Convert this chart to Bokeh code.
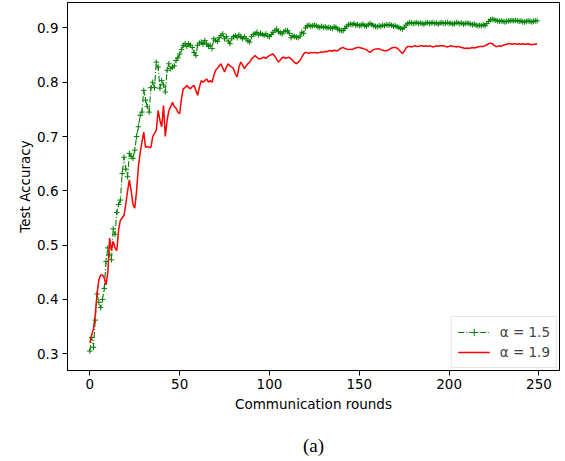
from bokeh.plotting import figure
from bokeh.models import Range1d, FixedTicker, Legend, LegendItem, LinearAxis
from bokeh.embed import file_html
from bokeh.resources import INLINE

rounds = list(range(250))

acc_alpha_15 = [
    0.305, 0.330, 0.312, 0.362, 0.410, 0.395, 0.385, 0.400, 0.420, 0.470,
    0.495, 0.482, 0.473, 0.530, 0.520, 0.560, 0.575, 0.583, 0.632, 0.662,
    0.640, 0.626, 0.669, 0.663, 0.660, 0.675, 0.700, 0.718, 0.739, 0.745,
    0.785, 0.767, 0.755, 0.745, 0.790, 0.800, 0.790, 0.837, 0.828, 0.789,
    0.803, 0.795, 0.782, 0.822, 0.834, 0.825, 0.828, 0.830, 0.840, 0.845,
    0.852, 0.860, 0.868, 0.871, 0.866, 0.871, 0.868, 0.864, 0.855, 0.849,
    0.868, 0.872, 0.874, 0.870, 0.877, 0.871, 0.866, 0.868, 0.862, 0.880,
    0.877, 0.875, 0.882, 0.886, 0.889, 0.880, 0.884, 0.876, 0.871, 0.880,
    0.884, 0.886, 0.882, 0.887, 0.884, 0.880, 0.884, 0.880, 0.876, 0.874,
    0.884, 0.888, 0.889, 0.892, 0.887, 0.890, 0.888, 0.886, 0.889, 0.885,
    0.884, 0.888, 0.892, 0.895, 0.898, 0.893, 0.891, 0.889, 0.893, 0.895,
    0.895, 0.890, 0.882, 0.886, 0.884, 0.883, 0.882, 0.885, 0.892, 0.890,
    0.900, 0.904, 0.905, 0.903, 0.904, 0.905, 0.904, 0.902, 0.901, 0.903,
    0.901, 0.902, 0.900, 0.901, 0.900, 0.899, 0.902, 0.901, 0.898, 0.896,
    0.895, 0.895, 0.899, 0.903, 0.906, 0.907, 0.906, 0.908, 0.905, 0.906,
    0.904, 0.905, 0.907, 0.904, 0.903, 0.906, 0.908, 0.906, 0.904, 0.903,
    0.902, 0.904, 0.903, 0.905, 0.904, 0.906, 0.905, 0.906, 0.905, 0.903,
    0.904, 0.902, 0.901, 0.899, 0.898, 0.901, 0.905, 0.908, 0.910, 0.909,
    0.908, 0.909, 0.910, 0.908, 0.909, 0.908, 0.907, 0.909, 0.910, 0.908,
    0.909, 0.910, 0.908, 0.909, 0.907, 0.909, 0.910, 0.908, 0.909, 0.910,
    0.908, 0.909, 0.907, 0.908, 0.910, 0.909, 0.908, 0.909, 0.907, 0.908,
    0.909, 0.908, 0.907, 0.906, 0.907, 0.905, 0.904, 0.905, 0.904, 0.906,
    0.904, 0.908, 0.912, 0.915, 0.916, 0.915, 0.914, 0.913, 0.912, 0.913,
    0.912, 0.911, 0.912, 0.913, 0.913, 0.914, 0.913, 0.914, 0.913, 0.912,
    0.913, 0.911, 0.911, 0.912, 0.913, 0.912, 0.911, 0.912, 0.913, 0.913,
]

acc_alpha_19 = [
    0.320, 0.335, 0.345, 0.372, 0.410, 0.436, 0.445, 0.445, 0.440, 0.427,
    0.450, 0.513, 0.490, 0.507, 0.495, 0.490, 0.528, 0.546, 0.550, 0.555,
    0.575, 0.600, 0.620, 0.600, 0.575, 0.568, 0.600, 0.644, 0.670, 0.690,
    0.708, 0.680, 0.682, 0.680, 0.680, 0.700, 0.706, 0.712, 0.748, 0.730,
    0.718, 0.757, 0.700, 0.730, 0.748, 0.755, 0.763, 0.755, 0.752, 0.745,
    0.742, 0.770, 0.788, 0.790, 0.794, 0.790, 0.788, 0.792, 0.794, 0.785,
    0.776, 0.791, 0.803, 0.800, 0.803, 0.806, 0.800, 0.803, 0.800, 0.812,
    0.822, 0.826, 0.830, 0.834, 0.826, 0.819, 0.828, 0.834, 0.830, 0.828,
    0.825, 0.815, 0.810, 0.828, 0.837, 0.832, 0.825, 0.830, 0.834, 0.837,
    0.843, 0.846, 0.849, 0.846, 0.843, 0.843, 0.845, 0.846, 0.844, 0.847,
    0.849, 0.851, 0.852, 0.848, 0.842, 0.837, 0.841, 0.845, 0.846, 0.844,
    0.845, 0.846, 0.843, 0.840, 0.836, 0.834, 0.837, 0.840, 0.846, 0.852,
    0.855, 0.854, 0.853, 0.855, 0.854, 0.855, 0.854, 0.854, 0.855, 0.856,
    0.855, 0.857, 0.856, 0.858, 0.858, 0.857, 0.859, 0.858, 0.858, 0.861,
    0.863, 0.864, 0.862, 0.861, 0.860, 0.861, 0.860, 0.862, 0.863, 0.864,
    0.864, 0.863, 0.862, 0.861, 0.860, 0.857, 0.855, 0.858, 0.860, 0.861,
    0.861, 0.862, 0.860, 0.859, 0.858, 0.858, 0.859, 0.861, 0.863, 0.864,
    0.864, 0.863, 0.860, 0.856, 0.853, 0.857, 0.863, 0.866, 0.866, 0.865,
    0.866, 0.867, 0.866, 0.866, 0.867, 0.867, 0.866, 0.867, 0.866, 0.867,
    0.866, 0.865, 0.866, 0.867, 0.866, 0.867, 0.867, 0.867, 0.866, 0.865,
    0.866, 0.867, 0.866, 0.866, 0.865, 0.866, 0.865, 0.864, 0.863, 0.862,
    0.863, 0.862, 0.863, 0.864, 0.863, 0.864, 0.865, 0.866, 0.866, 0.866,
    0.867, 0.869, 0.871, 0.872, 0.871, 0.868, 0.866, 0.866, 0.867, 0.866,
    0.868, 0.869, 0.870, 0.871, 0.871, 0.870, 0.871, 0.871, 0.870, 0.871,
    0.870, 0.871, 0.870, 0.870, 0.871, 0.870, 0.869, 0.870, 0.870, 0.871,
]

x_ticks = [0, 50, 100, 150, 200, 250]
y_ticks = [0.3, 0.4, 0.5, 0.6, 0.7, 0.8, 0.9]
series_labels = ["\u03b1 = 1.5", "\u03b1 = 1.9"]
x_title = "Communication rounds"
y_title = "Test Accuracy"
caption = "(a)"

FONT = "DejaVu Sans"

p = figure(width=565, height=461, output_backend="svg", toolbar_location=None,
           x_range=Range1d(-12.45, 261.45), y_range=Range1d(0.2692, 0.9468),
           min_border_left=67, min_border_right=6, min_border_top=2, min_border_bottom=91)
p.grid.visible = False
p.outline_line_color = "black"
p.outline_line_width = 1
p.background_fill_color = "white"
p.border_fill_color = "white"

for ax in (p.xaxis[0], p.yaxis[0]):
    ax.major_label_text_font = FONT
    ax.major_label_text_font_size = "13.5px"
    ax.major_label_text_color = "black"
    ax.axis_label_text_font = FONT
    ax.axis_label_text_font_size = "13.5px"
    ax.axis_label_text_font_style = "normal"
    ax.axis_label_text_color = "black"
    ax.axis_line_color = "black"
    ax.major_tick_line_color = "black"
    ax.minor_tick_line_color = None
    ax.major_tick_out = 5
    ax.major_tick_in = 0

p.xaxis.ticker = FixedTicker(ticks=x_ticks)
p.yaxis.ticker = FixedTicker(ticks=y_ticks)
p.xaxis.axis_label = x_title
p.yaxis.axis_label = y_title
p.xaxis.major_label_standoff = 3
p.yaxis.major_label_standoff = 4
p.xaxis.axis_label_standoff = 4
p.yaxis.axis_label_standoff = 1

# caption "(a)" drawn as the label of a blank second bottom axis
cap_axis = LinearAxis(ticker=FixedTicker(ticks=[]), axis_label=caption,
                      axis_line_color=None, major_tick_line_color=None,
                      minor_tick_line_color=None, major_tick_out=0, major_tick_in=0,
                      major_label_text_font_size="0px", major_label_standoff=0,
                      axis_label_standoff=20, axis_label_text_font="Liberation Serif",
                      axis_label_text_font_size="19px", axis_label_text_font_style="normal",
                      axis_label_text_color="black")
p.add_layout(cap_axis, "below")

g_line = p.line(rounds, acc_alpha_15, line_color="#008000", line_width=1.1, line_dash="6 2 1 2")
g_pts = p.scatter(rounds, acc_alpha_15, marker="cross", size=5.5, line_color="#008000", line_width=1)
r_line = p.line(rounds, acc_alpha_19, line_color="#ff0000", line_width=1.5)

legend = Legend(items=[LegendItem(label=series_labels[0], renderers=[g_line, g_pts]),
                       LegendItem(label=series_labels[1], renderers=[r_line])],
                location="bottom_right")
legend.label_text_font = FONT
legend.label_text_font_size = "13.5px"
legend.border_line_color = "#cccccc"
legend.border_line_width = 1
legend.background_fill_alpha = 0.8
legend.margin = 2
legend.padding = 6
legend.spacing = 2
legend.glyph_width = 32
legend.glyph_height = 18
legend.label_standoff = 10
legend.label_height = 18
p.add_layout(legend)

open("out.html", "w").write(file_html(p, INLINE))
